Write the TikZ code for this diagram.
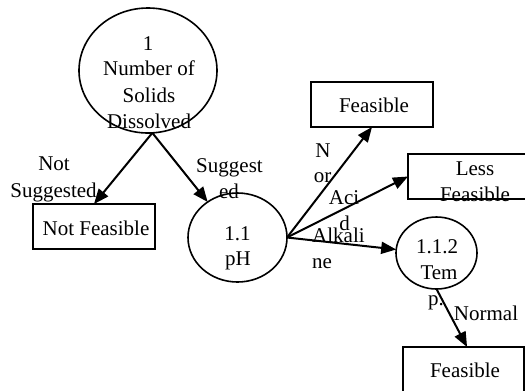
\documentclass[tikz,border=0pt]{standalone}
\usepackage{fontspec}
\setmainfont{Liberation Serif}
\usetikzlibrary{arrows.meta,shapes.geometric}
\begin{document}
\begin{tikzpicture}[x=1bp,y=-1bp,
  shp/.style={draw, line width=1.6bp, inner sep=0pt, outer sep=0pt},
  oval/.style={shp, ellipse},
  box/.style={shp, rectangle},
  t/.style={font=\fontsize{21bp}{26bp}\selectfont, anchor=base, inner sep=0pt},
  arr/.style={line width=2bp, -{Triangle[length=15bp,width=12bp]}}
]
\useasboundingbox (0,0) rectangle (525,390);
% shapes
\node[oval, minimum width=138bp, minimum height=125bp] (root) at (148,70.5) {};
\node[box, minimum width=122bp, minimum height=45bp] (nf) at (94,226.5) {};
\node[oval, minimum width=99bp, minimum height=89bp] (ph) at (237.5,237.5) {};
\node[box, minimum width=122bp, minimum height=45bp] (f1) at (372,104.5) {};
\node[box, minimum width=134bp, minimum height=45bp] (lf) at (475,176.5) {};
\node[oval, minimum width=81bp, minimum height=72bp] (tmp) at (436.5,253) {};
\node[box, minimum width=121bp, minimum height=45bp] (f2) at (463.5,369.5) {};
% texts in shapes
\node[t] (r1) at (148,50) {1};
\node[t] (r2) at (149,75.5) {Number of};
\node[t] (r3) at (149,102) {Solids};
\node[t] (r4) at (149,128) {Dissolved};
\node[t] (nft) at (96,235) {Not Feasible};
\node[t] (ph1) at (237.5,240) {1.1};
\node[t] (ph2) at (238,265.5) {pH};
\node[t] (f1t) at (374,112) {Feasible};
\node[t] (lf1) at (475,175) {Less};
\node[t] (lf2) at (475,201.5) {Feasible};
\node[t] (tm1) at (437,253) {1.1.2};
\node[t] (tm2) at (439,279) {Tem};
\node[t] (tm3) at (436,305) {p.};
\node[t] (f2t) at (465,377) {Feasible};
% connectors
\draw[arr] (root.-86) -- (nf.north);
\draw[arr] (root.-86) -- (ph.130);
\draw[arr] (ph.east) -- (f1.south);
\draw[arr] (ph.east) -- (lf.west);
\draw[arr] (ph.east) -- (tmp.175);
\draw[arr] (tmp.south) -- (f2.81);
% connector labels
\node[t] (l1a) at (54,170) {Not};
\node[t] (l1b) at (53.5,197) {Suggested};
\node[t] (l2a) at (229.5,172) {Suggest};
\node[t] (l2b) at (229,198) {ed};
\node[t] (l3a) at (323,157) {N};
\node[t] (l3b) at (322.5,182) {or};
\node[t] (l4a) at (344,204) {Aci};
\node[t] (l4b) at (344.5,230) {d};
\node[t, anchor=base west] (l5a) at (312,242) {Alkali};
\node[t, anchor=base west] (l5b) at (312,268) {ne};
\node[t] (l6) at (486,320) {Normal};
\end{tikzpicture}
\end{document}
